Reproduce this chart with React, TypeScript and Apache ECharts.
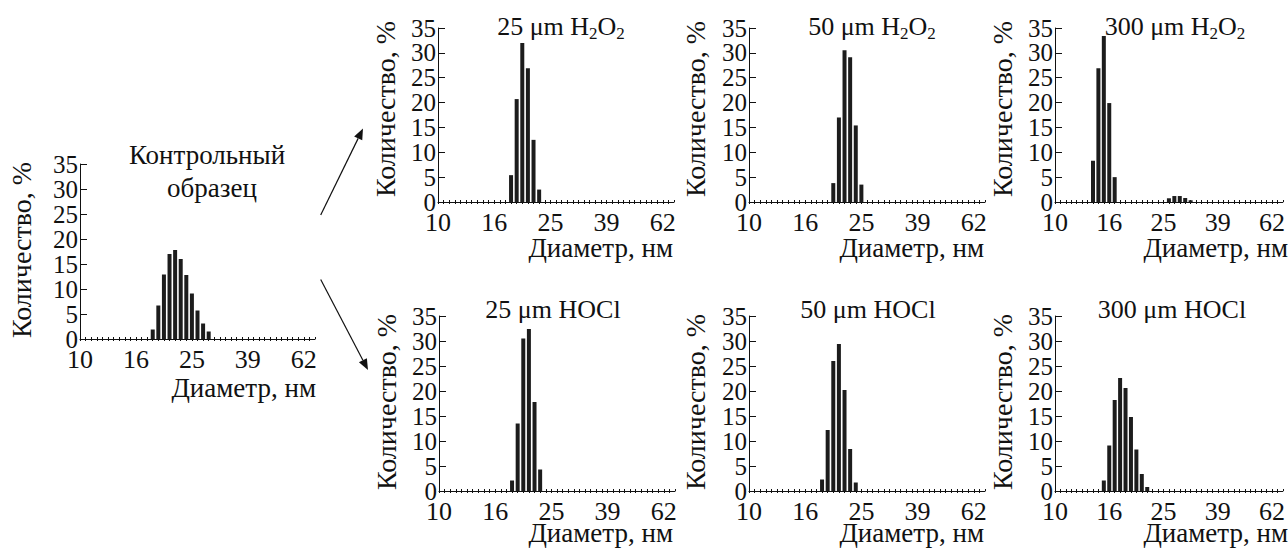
import React, { useEffect, useRef } from "react";
import * as echarts from "echarts";

// ---- data ----
const xTickLabels = ["10", "16", "25", "39", "62"];
const yMax = 35;
const yStep = 5;
const binCount = 42;

const controlBins = [13, 14, 15, 16, 17, 18, 19, 20, 21, 22, 23];
const controlValues = [1.9, 6.7, 12.9, 17.0, 17.8, 16.0, 12.8, 9.1, 5.7, 3.1, 1.5];

const h2o2_25Bins = [13, 14, 15, 16, 17, 18];
const h2o2_25Values = [5.4, 20.7, 32.0, 26.9, 12.5, 2.5];

const h2o2_50Bins = [15, 16, 17, 18, 19, 20];
const h2o2_50Values = [3.8, 17.0, 30.5, 29.1, 15.4, 3.5];

const h2o2_300Bins = [7, 8, 9, 10, 11, 21, 22, 23, 24, 25];
const h2o2_300Values = [8.3, 26.9, 33.4, 19.9, 5.0, 0.75, 1.2, 1.2, 0.8, 0.35];

const hocl_25Bins = [13, 14, 15, 16, 17, 18];
const hocl_25Values = [2.1, 13.5, 30.5, 32.4, 17.8, 4.3];

const hocl_50Bins = [13, 14, 15, 16, 17, 18, 19];
const hocl_50Values = [2.3, 12.2, 26.0, 29.4, 20.2, 8.4, 1.7];

const hocl_300Bins = [9, 10, 11, 12, 13, 14, 15, 16, 17];
const hocl_300Values = [2.1, 9.1, 18.2, 22.6, 20.6, 14.8, 8.3, 3.4, 0.8];

const yAxisName = "Количество, %";
const xAxisName = "Диаметр, нм";

// ---- layout ----
const FONT = "Liberation Serif";
const FS = 27;
const TICK_FS = 26;

type Panel = {
  bins: number[];
  values: number[];
  left: number;
  top: number;
  width: number;
  height: number;
  title: string | null;
  titleX: number;
  titleY: number;
  nameRight: number;
  nameY: number;
  yNameX: number;
  yNameY: number;
};

const panels: Panel[] = [
  { bins: controlBins, values: controlValues, left: 80, top: 164, width: 235, height: 175, title: null, titleX: 0, titleY: 0, nameRight: 316, nameY: 388, yNameX: 21, yNameY: 250 },
  { bins: h2o2_25Bins, values: h2o2_25Values, left: 438, top: 28, width: 236, height: 174, title: "25 μm H{s|2}O{s|2}", titleX: 561, titleY: 26, nameRight: 673, nameY: 248, yNameX: 385, yNameY: 109 },
  { bins: h2o2_50Bins, values: h2o2_50Values, left: 749, top: 28, width: 236, height: 174, title: "50 μm H{s|2}O{s|2}", titleX: 872, titleY: 26, nameRight: 984, nameY: 248, yNameX: 695, yNameY: 109 },
  { bins: h2o2_300Bins, values: h2o2_300Values, left: 1055, top: 28, width: 236, height: 174, title: "300 μm H{s|2}O{s|2}", titleX: 1175, titleY: 26, nameRight: 1288, nameY: 248, yNameX: 1002, yNameY: 109 },
  { bins: hocl_25Bins, values: hocl_25Values, left: 439, top: 316, width: 236, height: 175, title: "25 μm HOCl", titleX: 553, titleY: 309, nameRight: 673, nameY: 533, yNameX: 386, yNameY: 402 },
  { bins: hocl_50Bins, values: hocl_50Values, left: 749, top: 316, width: 236, height: 175, title: "50 μm HOCl", titleX: 868, titleY: 309, nameRight: 984, nameY: 533, yNameX: 695, yNameY: 402 },
  { bins: hocl_300Bins, values: hocl_300Values, left: 1055, top: 316, width: 236, height: 175, title: "300 μm HOCl", titleX: 1172, titleY: 309, nameRight: 1288, nameY: 533, yNameX: 1002, yNameY: 402 },
];

const textStyleBase = { fontFamily: FONT, fontSize: FS, fill: "#111" };

function buildOption() {
  const grid: any[] = [];
  const xAxis: any[] = [];
  const yAxis: any[] = [];
  const series: any[] = [];
  const graphic: any[] = [];

  panels.forEach((p, i) => {
    grid.push({ left: p.left, top: p.top, width: p.width, height: p.height, containLabel: false });
    // main x axis: line, outward ticks, labels
    xAxis.push({
      type: "value",
      gridIndex: i,
      min: 0,
      max: binCount,
      interval: 1,
      axisLine: { show: true, onZero: false, lineStyle: { color: "#111", width: 1 } },
      axisTick: { show: true, inside: false, length: 2, lineStyle: { color: "#111" } },
      axisLabel: {
        show: true,
        margin: 7,
        fontFamily: FONT,
        fontSize: TICK_FS,
        color: "#111",
        showMinLabel: true,
        showMaxLabel: false,
        formatter: (v: number) => (v % 10 === 0 ? xTickLabels[v / 10] ?? "" : ""),
      },
      splitLine: { show: false },
    });
    // helper x axis: inward ticks only
    xAxis.push({
      type: "value",
      gridIndex: i,
      position: "bottom",
      min: 0,
      max: binCount,
      interval: 1,
      axisLine: { show: false, onZero: false },
      axisTick: { show: true, inside: true, length: 2, lineStyle: { color: "#111" } },
      axisLabel: { show: false },
      splitLine: { show: false },
    });
    yAxis.push({
      type: "value",
      gridIndex: i,
      min: 0,
      max: yMax,
      interval: yStep,
      axisLine: { show: true, lineStyle: { color: "#111", width: 1 } },
      axisTick: { show: true, inside: true, length: 7, lineStyle: { color: "#111" } },
      axisLabel: {
        show: true,
        margin: 2,
        fontFamily: FONT,
        fontSize: 25,
        color: "#111",
        lineHeight: 17,
        showMinLabel: true,
        showMaxLabel: true,
        hideOverlap: false,
      },
      splitLine: { show: false },
    });
    series.push({
      type: "bar",
      xAxisIndex: i * 2,
      yAxisIndex: i,
      barWidth: 4,
      itemStyle: { color: "#1c1c1c" },
      data: p.bins.map((b, k) => [b, p.values[k]]),
      silent: true,
    });

    // y axis name
    graphic.push({
      type: "text",
      x: p.yNameX,
      y: p.yNameY,
      rotation: Math.PI / 2,
      style: { ...textStyleBase, fontSize: 28, text: yAxisName, align: "center", verticalAlign: "middle" },
    });
    // x axis name
    graphic.push({
      type: "text",
      x: p.nameRight,
      y: p.nameY,
      style: { ...textStyleBase, text: xAxisName, align: "right", verticalAlign: "middle" },
    });
    if (p.title) {
      graphic.push({
        type: "text",
        x: p.titleX,
        y: p.titleY,
        style: {
          ...textStyleBase,
          fontSize: 26,
          text: p.title,
          align: "center",
          verticalAlign: "middle",
          rich: {
            s: { fontFamily: FONT, fontSize: 17, fill: "#111", padding: [15, 0, 0, 0] },
          },
        },
      });
    }
  });

  // control title
  graphic.push({
    type: "text",
    x: 207,
    y: 155,
    style: { ...textStyleBase, text: "Контрольный", align: "center", verticalAlign: "middle" },
  });
  graphic.push({
    type: "text",
    x: 212,
    y: 188,
    style: { ...textStyleBase, text: "образец", align: "center", verticalAlign: "middle" },
  });

  // arrows
  const arrow = (x1: number, y1: number, x2: number, y2: number) => {
    const ang = Math.atan2(y2 - y1, x2 - x1);
    const L = 11;
    const W = 4.5;
    const bx = x2 - L * Math.cos(ang);
    const by = y2 - L * Math.sin(ang);
    const px = -Math.sin(ang) * W;
    const py = Math.cos(ang) * W;
    graphic.push({
      type: "line",
      shape: { x1, y1, x2: bx, y2: by },
      style: { stroke: "#111", lineWidth: 1.2 },
    });
    graphic.push({
      type: "polygon",
      shape: { points: [[x2, y2], [bx + px, by + py], [bx - px, by - py]] },
      style: { fill: "#111" },
    });
  };
  arrow(320.7, 215, 363, 128.5);
  arrow(320.7, 279.5, 368, 370);

  return {
    animation: false,
    backgroundColor: "#ffffff",
    grid,
    xAxis,
    yAxis,
    series,
    graphic,
  };
}

export default function App() {
  const ref = useRef<HTMLDivElement>(null);
  useEffect(() => {
    if (!ref.current) return;
    const chart = echarts.init(ref.current, undefined, { renderer: "svg" });
    chart.setOption(buildOption() as any);
    return () => chart.dispose();
  }, []);
  return (
    <div
      ref={ref}
      style={{ position: "absolute", left: 0, top: 0, width: 1288, height: 548, background: "#fff" }}
    />
  );
}
